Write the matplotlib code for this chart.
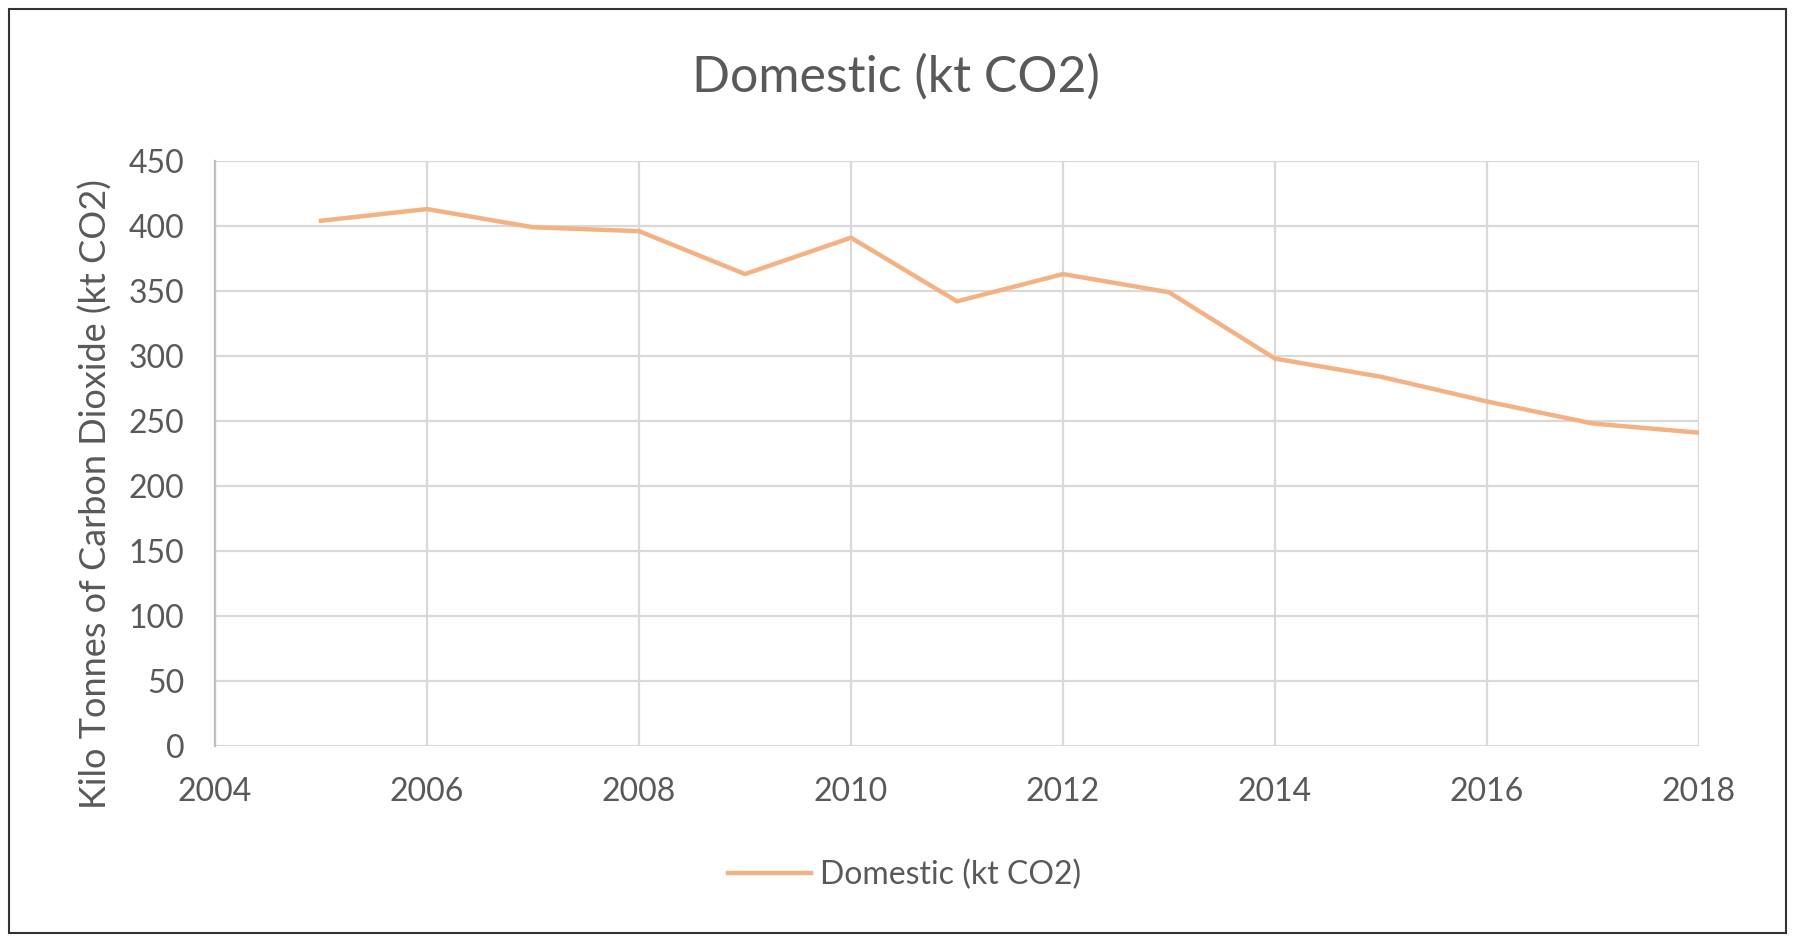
import matplotlib
matplotlib.use('Agg')
import matplotlib.pyplot as plt
from matplotlib.patches import Rectangle

years = [2005, 2006, 2007, 2008, 2009, 2010, 2011, 2012, 2013, 2014, 2015, 2016, 2017, 2018]
domestic = [404, 413, 399, 396, 363, 391, 342, 363, 349, 298, 284, 265, 248, 241]
x_ticks = [2004, 2006, 2008, 2010, 2012, 2014, 2016, 2018]
y_ticks = [0, 50, 100, 150, 200, 250, 300, 350, 400, 450]

plt.rcParams['font.family'] = ['Lato', 'DejaVu Sans']
text_col = '#595959'
grid_col = '#D9D9D9'

fig = plt.figure(figsize=(17.95, 9.38), dpi=100)
ax = fig.add_axes([0.1198, 0.2047, 0.9465 - 0.1198, 0.8284 - 0.2047])

ax.plot(years, domestic, color='#F4B183', linewidth=3.2, label='Domestic (kt CO2)')

ax.set_xlim(2004, 2018)
ax.set_ylim(0, 450)
ax.set_xticks(x_ticks)
ax.set_yticks(y_ticks)
ax.grid(True, color=grid_col, linewidth=1.6)
ax.set_axisbelow(True)
for s in ['top', 'right', 'bottom']:
    ax.spines[s].set_visible(False)
ax.spines['left'].set_color('#BFBFBF')
ax.spines['left'].set_linewidth(1.6)
ax.tick_params(axis='both', length=0, labelsize=23, colors=text_col)
ax.tick_params(axis='x', pad=22)
ax.tick_params(axis='y', pad=22)

ax.set_ylabel('Kilo Tonnes of Carbon Dioxide (kt CO2)', fontsize=26, color=text_col)
ax.yaxis.set_label_coords(-0.069, 0.43)
fig.text(0.499, 0.918, 'Domestic (kt CO2)', fontsize=36, color=text_col, ha='center', va='center')

leg = fig.legend(loc='center', bbox_to_anchor=(0.504, 0.067), frameon=False,
                 fontsize=23, handlelength=2.6, handletextpad=0.3)
for t in leg.get_texts():
    t.set_color(text_col)

fig.patches.append(Rectangle((0.005, 0.005), 0.99, 0.985, transform=fig.transFigure,
                             fill=False, edgecolor='#333333', linewidth=1.5))

fig.savefig('out.png', dpi=100)
